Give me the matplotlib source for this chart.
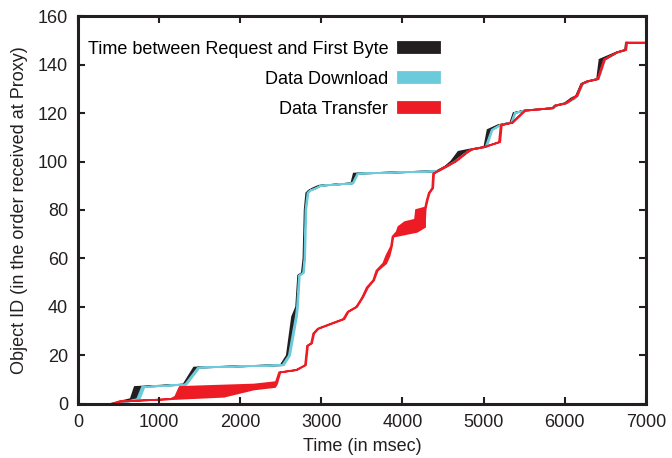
import numpy as np
import matplotlib
matplotlib.use("Agg")
import matplotlib.pyplot as plt

plt.rcParams["font.family"] = ["Liberation Sans", "DejaVu Sans"]

# Objects in the order received at the proxy, with request / first byte / download end times (ms)
obj_id = [0, 1, 2, 7, 8, 15, 16, 20, 36, 40, 53, 54, 60, 80, 87, 88, 89, 90, 91, 95,
          96, 98, 100, 104, 105, 106, 113, 115, 116, 120, 121, 122, 123, 124, 126,
          127, 132, 133, 134, 142, 143, 145, 146, 149]
request_ms = [400, 520, 650, 700, 1300, 1430, 2500, 2575, 2640, 2690, 2715, 2760, 2780,
              2795, 2815, 2845, 2900, 2970, 3370, 3400, 4420, 4530, 4600, 4690, 4840,
              5010, 5050, 5180, 5330, 5370, 5500, 5850, 5875, 6000, 6080, 6140, 6205,
              6270, 6400, 6430, 6500, 6640, 6745, 6755]
first_byte_ms = [470, 600, 730, 790, 1320, 1480, 2520, 2600, 2685, 2700, 2725, 2775, 2792,
                 2805, 2830, 2858, 2935, 2990, 3385, 3445, 4435, 4545, 4645, 4800, 4856,
                 5025, 5100, 5200, 5340, 5385, 5514, 5857, 5885, 6015, 6120, 6150, 6215,
                 6280, 6410, 6489, 6541, 6647, 6752, 6763]
download_end_ms = [500, 640, 760, 820, 1340, 1500, 2540, 2615, 2700, 2712, 2735, 2785, 2800,
                   2815, 2840, 2870, 2945, 3000, 3395, 3455, 4445, 4555, 4655, 4810, 4866,
                   5040, 5110, 5215, 5350, 5395, 5525, 5865, 5895, 6025, 6130, 6160, 6225,
                   6290, 6420, 6500, 6550, 6655, 6760, 6770]

# Transfer from proxy to client
transfer_id = [0, 1, 2, 3, 6, 7, 8, 9, 13, 14, 16, 24, 25, 29, 31, 33, 35, 38, 40, 44,
               48, 51, 55, 58, 61, 65, 69, 71, 73, 75, 76, 80, 81, 84, 87, 89, 95, 96, 98,
               100, 104, 105, 106, 108, 115, 116, 121, 122, 123, 124, 127, 132, 133, 134,
               142, 143, 145, 146, 149, 149]
transfer_start_ms = [430, 500, 1143, 1200, 1240, 1255, 2170, 2440, 2480, 2690, 2800, 2825,
                     2875, 2900, 2955, 3110, 3270, 3325, 3430, 3505, 3560, 3640, 3680, 3765,
                     3800, 3860, 3878, 3930, 3950, 4030, 4155, 4168, 4280, 4300, 4325, 4368,
                     4378, 4430, 4540, 4650, 4800, 4855, 5010, 5190, 5212, 5350, 5505, 5850,
                     5880, 6010, 6145, 6210, 6275, 6405, 6485, 6536, 6642, 6748, 6760, 7000]
transfer_end_ms = [450, 520, 1160, 1800, 2170, 2430, 2450, 2460, 2495, 2700, 2810, 2835,
                   2885, 2912, 2965, 3125, 3285, 3335, 3440, 3515, 3575, 3650, 3695, 3800,
                   3840, 3870, 3888, 4180, 4279, 4279, 4279, 4285, 4290, 4310, 4335, 4378,
                   4390, 4440, 4552, 4660, 4812, 4865, 5020, 5205, 5225, 5362, 5518, 5860,
                   5890, 6020, 6155, 6220, 6285, 6415, 6495, 6546, 6652, 6757, 6768, 7000]

BLACK = "#231f20"
CYAN = "#6ccbdb"
RED = "#ed1c24"


def band(ax, ids, left, right, color, label):
    # polygon between the left and right time curves
    xs = np.r_[left, right[::-1]]
    ys = np.r_[ids, ids[::-1]]
    ax.fill(xs, ys, color=color, lw=1.3, label=label)


fig = plt.figure(figsize=(6.72, 4.58), dpi=100)
ax = fig.add_axes([0.116, 0.118, 0.845, 0.847])

ids = np.array(obj_id)
band(ax, ids, np.array(request_ms), np.array(first_byte_ms), BLACK,
     "Time between Request and First Byte")
band(ax, ids, np.array(first_byte_ms), np.array(download_end_ms), CYAN, "Data Download")
band(ax, np.array(transfer_id), np.array(transfer_start_ms), np.array(transfer_end_ms), RED,
     "Data Transfer")

ax.set_xlim(0, 7000)
ax.set_ylim(0, 160)
ax.set_xticks(np.arange(0, 7001, 1000))
ax.set_yticks(np.arange(0, 161, 20))
ax.tick_params(direction="in", length=5, width=1.5, top=True, right=True,
               labelsize=13, colors=BLACK, pad=7)
for s in ax.spines.values():
    s.set_linewidth(2.2)
    s.set_color(BLACK)

ax.set_xlabel("Time (in msec)", fontsize=13, color=BLACK, labelpad=5)
ax.set_ylabel("Object ID (in the order received at Proxy)", fontsize=13,
              color=BLACK, labelpad=7)

ax.legend(loc="upper right", bbox_to_anchor=(0.65, 0.955), frameon=False,
          markerfirst=False, fontsize=13, handlelength=2.3, handleheight=0.55,
          labelspacing=0.72, handletextpad=0.55, borderaxespad=0)

fig.savefig("out.png", dpi=100)
